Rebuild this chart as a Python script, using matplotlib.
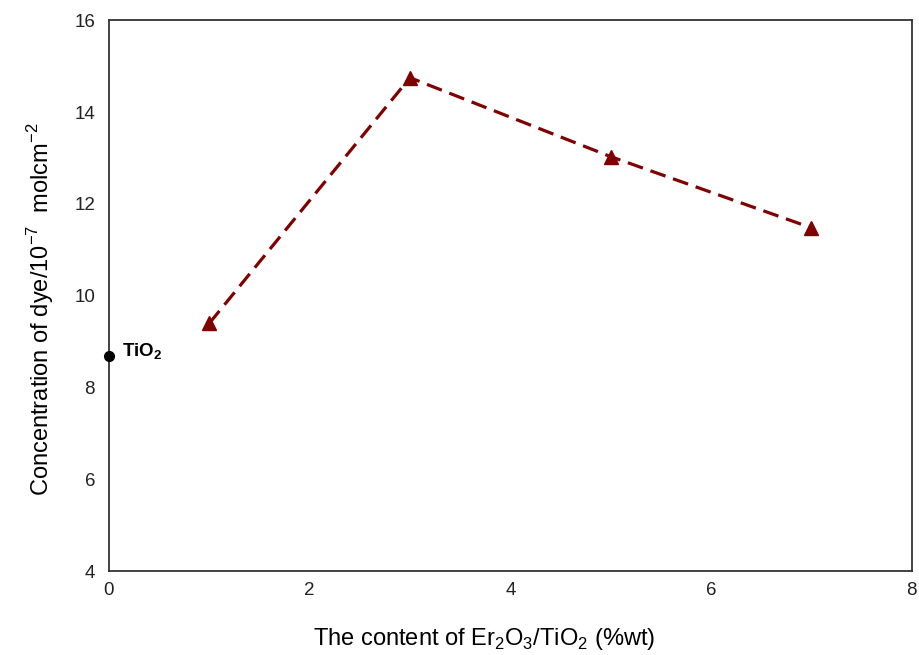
import numpy as np
import matplotlib
matplotlib.use("Agg")
import matplotlib.pyplot as plt

plt.rcParams['font.family'] = ['Liberation Sans', 'DejaVu Sans']
plt.rcParams['mathtext.fontset'] = 'custom'
plt.rcParams['mathtext.rm'] = 'Liberation Sans'
plt.rcParams['mathtext.bf'] = 'Liberation Sans:bold'

# doped samples
content = [1, 3, 5, 7]
conc = [9.4, 14.75, 13.03, 11.48]
# pure TiO2 reference
tio2_x = [0]
tio2_y = [8.68]

fig = plt.figure(figsize=(9.19, 6.55), dpi=100)
ax = fig.add_axes([0.1186, 0.128, 0.8734, 0.841])

ax.plot(content, conc, color='#800000', linestyle=(0, (5, 2.5)), linewidth=2.3,
        marker='^', markersize=10)
ax.plot(tio2_x, tio2_y, 'o', color='black', markersize=7, clip_on=False, zorder=5)
ax.text(0.13, tio2_y[0] + 0.1, 'TiO$_\\mathbf{2}$', fontsize=13.5, fontweight='bold',
        va='center', ha='left')

ax.set_xlim(0, 8)
ax.set_ylim(4, 16)
ax.set_xticks(np.arange(0, 9, 2))
ax.set_yticks(np.arange(4, 17, 2))
ax.tick_params(length=0, labelsize=13.5, colors='#222222')
ax.tick_params(axis='x', pad=8)
ax.tick_params(axis='y', pad=10)
for s in ax.spines.values():
    s.set_linewidth(1.3)
    s.set_color('#333333')

ax.set_xlabel('The content of Er$_2$O$_3$/TiO$_2$ (%wt)', fontsize=17, labelpad=12)
ax.xaxis.set_label_coords(0.467, -0.1)
ax.set_ylabel('Concentration of dye/10$^{\\mathrm{-7}}$  molcm$^{\\mathrm{-2}}$', fontsize=17, labelpad=14)
ax.yaxis.set_label_coords(-0.066, 0.475)

fig.savefig('out.png', dpi=100)
